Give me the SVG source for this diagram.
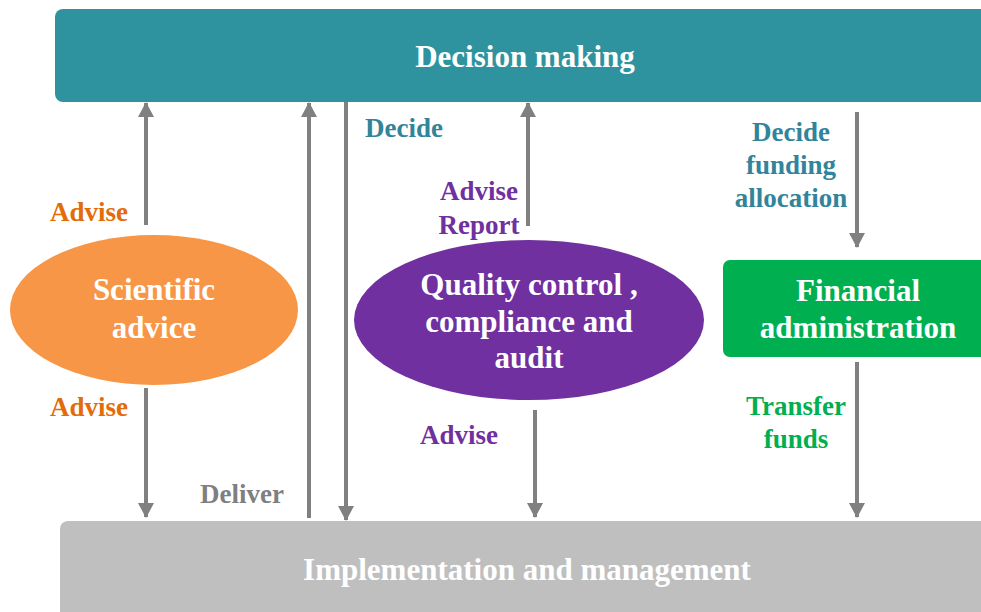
<svg xmlns="http://www.w3.org/2000/svg" width="981" height="612" viewBox="0 0 981 612">
<style>
text{font-family:"Liberation Serif","Times New Roman",serif;font-weight:bold;}
.node{font-size:31px;fill:#fff;text-anchor:middle;}
.lbl{font-size:27px;}
.conn{stroke:#808080;stroke-width:4;fill:none;marker-end:url(#ah);}
</style>
<defs>
<marker id="ah" markerUnits="userSpaceOnUse" markerWidth="16" markerHeight="16" viewBox="0 0 16 16" refX="14" refY="8" orient="auto">
<path d="M0,0 L15,8 L0,16 z" fill="#808080"/>
</marker>
</defs>
<rect width="981" height="612" fill="#fff"/>
<g id="decision">
<rect x="55" y="9" width="950" height="93" rx="8" fill="#2E939E"/>
<text class="node" x="525" y="67">Decision making</text>
</g>
<g id="implementation">
<rect x="60" y="521" width="950" height="110" rx="8" fill="#BFBFBF"/>
<text class="node" x="527" y="580">Implementation and management</text>
</g>
<g id="scientific">
<ellipse cx="154" cy="310" rx="144" ry="75" fill="#F79646"/>
<text class="node" x="154" y="300">Scientific</text>
<text class="node" x="154" y="338">advice</text>
</g>
<g id="quality">
<ellipse cx="529" cy="320" rx="175" ry="80" fill="#7030A0"/>
<text class="node" x="529" y="295">Quality control ,</text>
<text class="node" x="529" y="332">compliance and</text>
<text class="node" x="529" y="368">audit</text>
</g>
<g id="financial">
<rect x="723" y="260" width="290" height="97" rx="7" fill="#00B050"/>
<text class="node" x="858" y="301">Financial</text>
<text class="node" x="858" y="338">administration</text>
</g>
<g id="connectors">
<path class="conn" d="M146,225 V103"/>
<path class="conn" d="M146,388 V517"/>
<path class="conn" d="M309,518 V103"/>
<path class="conn" d="M346,102 V520"/>
<path class="conn" d="M528,226 V103"/>
<path class="conn" d="M535,410 V517"/>
<path class="conn" d="M857,112 V247"/>
<path class="conn" d="M857,362 V517"/>
</g>
<g id="labels">
<text class="lbl" x="365" y="137" fill="#31849B">Decide</text>
<text class="lbl" x="50" y="221" fill="#E36C09">Advise</text>
<text class="lbl" x="50" y="416" fill="#E36C09">Advise</text>
<text class="lbl" x="200" y="503" fill="#7F7F7F">Deliver</text>
<text class="lbl" x="479" y="200" fill="#7030A0" text-anchor="middle">Advise</text>
<text class="lbl" x="479" y="234" fill="#7030A0" text-anchor="middle">Report</text>
<text class="lbl" x="420" y="444" fill="#7030A0">Advise</text>
<text class="lbl" x="791" y="141" fill="#31849B" text-anchor="middle">Decide</text>
<text class="lbl" x="791" y="174" fill="#31849B" text-anchor="middle">funding</text>
<text class="lbl" x="791" y="207" fill="#31849B" text-anchor="middle">allocation</text>
<text class="lbl" x="796" y="415" fill="#00B050" text-anchor="middle">Transfer</text>
<text class="lbl" x="796" y="448" fill="#00B050" text-anchor="middle">funds</text>
</g>
</svg>
